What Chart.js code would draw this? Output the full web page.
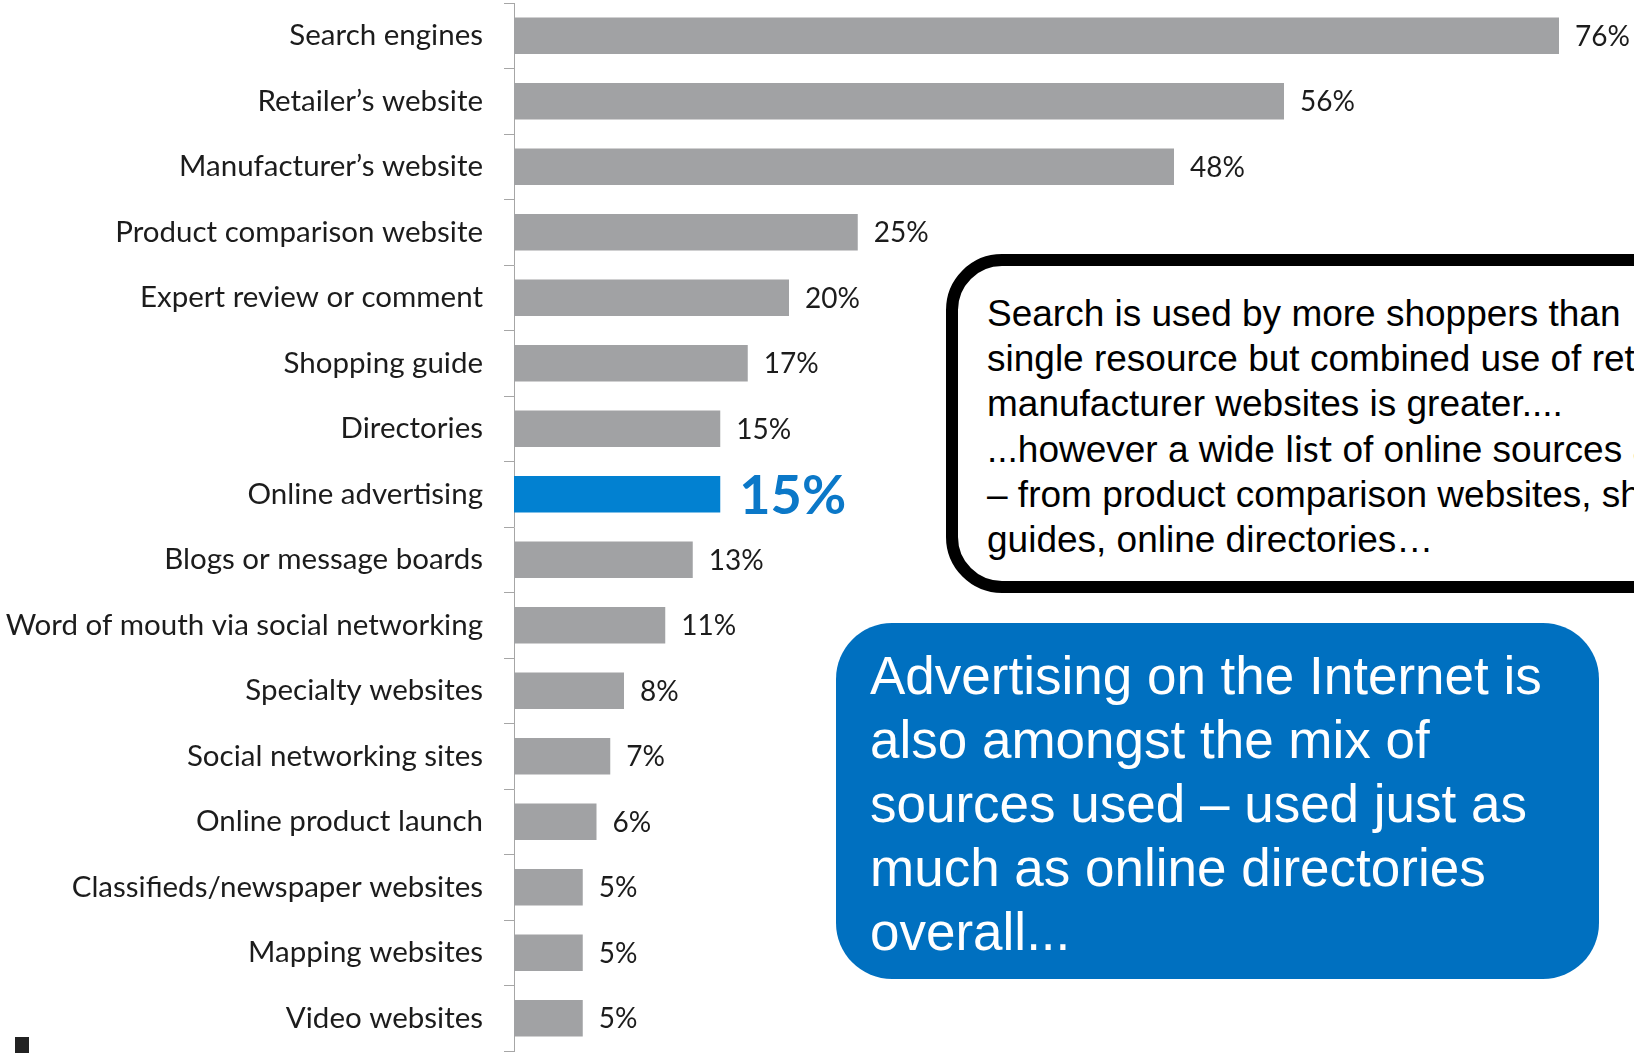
<!DOCTYPE html>
<html>
<head>
<meta charset="utf-8">
<script src="https://cdn.jsdelivr.net/npm/chart.js@4/dist/chart.umd.min.js"></script>
<style>
    html, body {
        margin: 0;
        padding: 0;
        background: #ffffff;
    }
    #page {
        position: relative;
        width: 1634px;
        height: 1053px;
        overflow: hidden;
        background: #ffffff;
    }
    #chartWrap {
        position: absolute;
        left: 0;
        top: 0;
        width: 1634px;
        height: 1053px;
    }
    .note {
        position: absolute;
        box-sizing: border-box;
        font-family: "Liberation Sans", Arial, sans-serif;
        white-space: pre;
    }
    #searchNote {
        left: 946px;
        top: 254px;
        width: 900px;
        height: 339px;
        border: 12px solid #000000;
        border-radius: 56px;
        background: #ffffff;
        color: #000000;
        font-size: 37px;
        line-height: 44.8px;
        padding: 26px 0 0 29px;
    }
    #searchNote .calibri {
        font-family: Lato, sans-serif;
    }
    #adNote {
        left: 836px;
        top: 623px;
        width: 763px;
        height: 356px;
        border-radius: 56px;
        background: #0070c0;
        color: #ffffff;
        font-size: 53px;
        line-height: 63.9px;
        padding: 21px 0 0 34px;
    }
    #marker {
        position: absolute;
        left: 15px;
        top: 1037px;
        width: 14px;
        height: 16px;
        background: #222222;
    }
</style>
</head>
<body>
<div id="page">
    <div id="chartWrap"><canvas id="sourcesChart"></canvas></div>
    <div class="note" id="searchNote">Search is used by more shoppers than
single resource but combined use of retailer and
manufacturer websites is greater....
...however a wide <span class="calibri">list</span> of online sources are used
– from product comparison websites, shopping
guides, online directories…</div>
    <div class="note" id="adNote">Advertising on the Internet is
also amongst the mix of
sources used – used just as
much as online directories
overall...</div>
    <div id="marker"></div>
</div>
<script>
document.addEventListener('DOMContentLoaded', function () {
    // online sources used by shoppers, % of respondents
    const categories = [
        'Search engines',
        'Retailer’s website',
        'Manufacturer’s website',
        'Product comparison website',
        'Expert review or comment',
        'Shopping guide',
        'Directories',
        'Online advertising',
        'Blogs or message boards',
        'Word of mouth via social networking',
        'Specialty websites',
        'Social networking sites',
        'Online product launch',
        'Classifieds/newspaper websites',
        'Mapping websites',
        'Video websites'
    ];
    const shares = [76, 56, 48, 25, 20, 17, 15, 15, 13, 11, 8, 7, 6, 5, 5, 5];
    const highlighted = 'Online advertising';

    const grey = '#a1a2a4';
    const blue = '#0281d1';
    const labelBlue = '#0b78c8';
    const axisGrey = '#a6a6a6';

    const barColors = categories.map(c => c === highlighted ? blue : grey);

    // percent labels at the end of each bar
    const valueLabels = {
        id: 'valueLabels',
        afterDatasetsDraw(chart) {
            const ctx = chart.ctx;
            const meta = chart.getDatasetMeta(0);
            ctx.save();
            ctx.textBaseline = 'middle';
            ctx.textAlign = 'left';
            meta.data.forEach(function (bar, i) {
                const text = shares[i] + '%';
                if (categories[i] === highlighted) {
                    ctx.font = 'bold 54px Lato';
                    ctx.fillStyle = labelBlue;
                    ctx.fillText(text, bar.x + 19, bar.y + 2);
                } else {
                    ctx.font = '28px Lato';
                    ctx.fillStyle = '#1c1c1c';
                    ctx.fillText(text, bar.x + 16, bar.y + 1);
                }
            });
            ctx.restore();
        }
    };

    const ctx = document.getElementById('sourcesChart').getContext('2d');
    new Chart(ctx, {
        type: 'bar',
        data: {
            labels: categories,
            datasets: [{
                data: shares,
                backgroundColor: barColors,
                borderWidth: 0,
                barPercentage: 0.56,
                categoryPercentage: 1
            }]
        },
        options: {
            indexAxis: 'y',
            responsive: true,
            maintainAspectRatio: false,
            animation: false,
            layout: {
                padding: { top: 3, bottom: 2, left: 0, right: 20 }
            },
            plugins: {
                legend: { display: false },
                tooltip: { enabled: false }
            },
            scales: {
                x: {
                    display: false,
                    min: 0,
                    max: 80
                },
                y: {
                    // fixed label column, no extra space above/below the bars
                    afterFit: function (scale) {
                        scale.width = 514;
                        scale.paddingTop = 0;
                        scale.paddingBottom = 0;
                    },
                    grid: {
                        offset: true,
                        drawOnChartArea: false,
                        drawTicks: true,
                        tickLength: 10,
                        tickColor: axisGrey,
                        lineWidth: 1
                    },
                    border: {
                        display: true,
                        color: axisGrey,
                        width: 1
                    },
                    ticks: {
                        padding: 21,
                        color: '#1c1c1c',
                        font: { family: 'Lato', size: 29.5 }
                    }
                }
            }
        },
        plugins: [valueLabels]
    });
});
</script>
</body>
</html>
